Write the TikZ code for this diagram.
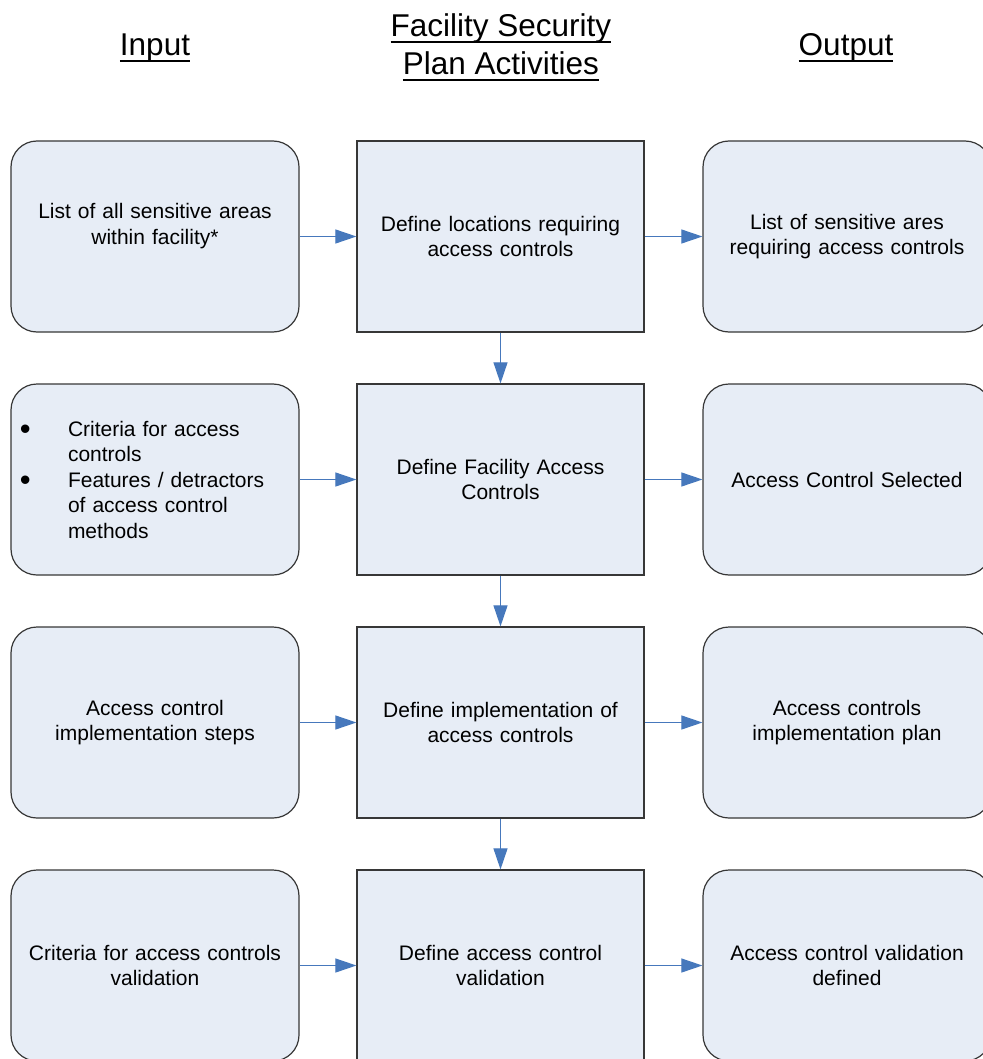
\documentclass[tikz,border=0pt]{standalone}
\usepackage{fontspec}
\setmainfont{Liberation Sans}
\usetikzlibrary{arrows.meta}
\definecolor{boxfill}{RGB}{231,237,246}
\definecolor{boxline}{RGB}{55,55,55}
\definecolor{arrowblue}{RGB}{70,120,188}
\newcommand\hul[1]{\setbox0\hbox{#1}\rlap{\rule[-6.5pt]{\wd0}{2pt}}\box0}
\newcommand\bul{\makebox[49pt][l]{\hspace*{1pt}\raisebox{-3pt}{\fontsize{31}{31}\selectfont\textbullet}}}
\newcommand\ind{\hspace*{49pt}}
\tikzset{
  base box/.style={draw=boxline, line width=1.2pt, fill=boxfill, minimum height=191pt,
    inner sep=0pt, text width=272pt, align=center,
    font=\fontsize{21}{25.5}\selectfont},
  inbox/.style={base box, rounded corners=26pt, minimum width=288pt},
  actbox/.style={base box, minimum width=287pt},
  outbox/.style={base box, rounded corners=26pt, minimum width=288pt},
  header/.style={font=\fontsize{31.5}{38}\selectfont, align=center, inner sep=0pt},
  flow/.style={draw=arrowblue, line width=1.1pt, -{Triangle[length=21pt,width=14pt]}}
}
\begin{document}
\begin{tikzpicture}[x=1pt,y=-1pt]
\useasboundingbox (0,0) rectangle (982,1059);
% headers
\node[header, anchor=base] (hin) at (155,56) {\hul{Input}};
\node[header, anchor=base] (hact) at (501,75) {\hul{Facility Security}\\\hul{Plan Activities}};
\node[header, anchor=base] (hout) at (846,56) {\hul{Output}};
% row 1
\node[inbox] (i1) at (155,236.5) {List of all sensitive areas\\within facility*\\\mbox{}};
\node[actbox] (a1) at (500.5,236.5) {Define locations requiring\\access controls};
\node[outbox] (o1) at (847,236.5) {List of sensitive ares\\requiring access controls};
% row 2
\node[inbox, align=left] (i2) at (155,479.5) {\bul Criteria for access\\\ind controls\\\bul Features / detractors\\\ind of access control\\\ind methods};
\node[actbox] (a2) at (500.5,479.5) {Define Facility Access\\Controls};
\node[outbox] (o2) at (847,479.5) {Access Control Selected};
% row 3
\node[inbox] (i3) at (155,722.5) {Access control\\implementation steps};
\node[actbox] (a3) at (500.5,722.5) {Define implementation of\\access controls};
\node[outbox] (o3) at (847,722.5) {Access controls\\implementation plan};
% row 4
\node[inbox] (i4) at (155,965.5) {Criteria for access controls\\validation};
\node[actbox] (a4) at (500.5,965.5) {Define access control\\validation};
\node[outbox] (o4) at (847,965.5) {Access control validation\\defined};
% connectors
\foreach \r in {1,2,3,4}{
  \draw[flow] (i\r.east) -- (a\r.west);
  \draw[flow] (a\r.east) -- (o\r.west);
}
\draw[flow] (a1.south) -- (a2.north);
\draw[flow] (a2.south) -- (a3.north);
\draw[flow] (a3.south) -- (a4.north);
\end{tikzpicture}
\end{document}
